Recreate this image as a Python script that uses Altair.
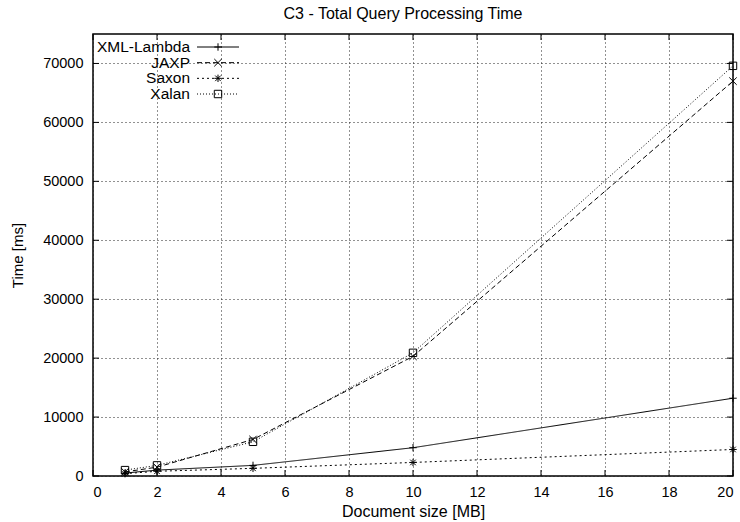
import altair as alt
import pandas as pd

# Document sizes (MB) and total query processing time (ms) per processor
sizes = [1, 2, 5, 10, 20]
xml_lambda = [500, 1000, 1800, 4800, 13200]
jaxp = [700, 1500, 6200, 20300, 67000]
saxon = [400, 800, 1300, 2300, 4500]
xalan = [1000, 1800, 5800, 20900, 69600]

series_names = ["XML-Lambda", "JAXP", "Saxon", "Xalan"]
series_values = [xml_lambda, jaxp, saxon, xalan]

x_ticks = list(range(0, 21, 2))
y_ticks = list(range(0, 70001, 10000))

W, H = 640, 442
FONT = "Liberation Sans"

dashes = [[1, 0], [5, 3], [2, 3], [1, 2]]
shapes = [
    "M-1,0L1,0M0,-1L0,1",
    "M-1,-1L1,1M-1,1L1,-1",
    "M-1,0L1,0M0,-1L0,1M-0.75,-0.75L0.75,0.75M-0.75,0.75L0.75,-0.75",
    "square",
]

rows = []
for name, vals in zip(series_names, series_values):
    for s, v in zip(sizes, vals):
        rows.append({"size": s, "time": v, "series": name})
df = pd.DataFrame(rows)

x_scale = alt.Scale(domain=[0, 20], nice=False, zero=False)
y_scale = alt.Scale(domain=[0, 75000], nice=False)

dash_scale = alt.Scale(domain=series_names, range=dashes)
shape_scale = alt.Scale(domain=series_names, range=shapes)

grid_style = dict(grid=True, gridDash=[1, 3], gridColor="#222", gridWidth=1,
                  ticks=False, domain=False, labelFont=FONT, labelFontSize=14.5,
                  labelColor="black", titleFont=FONT, titleFontWeight="normal",
                  titleColor="black")

base = alt.Chart(df).encode(
    x=alt.X("size:Q", scale=x_scale,
            axis=alt.Axis(values=x_ticks, title="Document size [MB]",
                          labelPadding=9, titlePadding=5, titleFontSize=16,
                          format="d", **grid_style)),
    y=alt.Y("time:Q", scale=y_scale,
            axis=alt.Axis(values=y_ticks, title="Time [ms]",
                          labelPadding=10, titlePadding=17, titleFontSize=15,
                          format="d", **grid_style)),
)

lines = base.mark_line(color="black", strokeWidth=1).encode(
    strokeDash=alt.StrokeDash("series:N", scale=dash_scale, legend=None),
    detail="series:N",
)
points = base.mark_point(color="black", filled=False, size=55, strokeWidth=1,
                         opacity=1).encode(
    shape=alt.Shape("series:N", scale=shape_scale, legend=None),
)

# inward tick marks on all four sides
xt = pd.DataFrame({"t": x_ticks})
yt = pd.DataFrame({"t": y_ticks})
tick_x_bottom = alt.Chart(xt).mark_rule(color="black", strokeWidth=1).encode(
    x=alt.X("t:Q", scale=x_scale), y=alt.value(H), y2=alt.value(H - 6))
tick_x_top = alt.Chart(xt).mark_rule(color="black", strokeWidth=1).encode(
    x=alt.X("t:Q", scale=x_scale), y=alt.value(0), y2=alt.value(6))
tick_y_left = alt.Chart(yt).mark_rule(color="black", strokeWidth=1).encode(
    y=alt.Y("t:Q", scale=y_scale), x=alt.value(0), x2=alt.value(6))
tick_y_right = alt.Chart(yt).mark_rule(color="black", strokeWidth=1).encode(
    y=alt.Y("t:Q", scale=y_scale), x=alt.value(W), x2=alt.value(W - 6))

plot = alt.layer(lines, points, tick_x_bottom, tick_x_top, tick_y_left, tick_y_right)

# key in the upper-left corner: label, line sample, marker
leg = pd.DataFrame({"series": series_names, "row": list(range(len(series_names)))})
row_y = alt.Y("row:Q", scale=alt.Scale(domain=[0, 3], range=[13, 60]), axis=None)
leg_text = alt.Chart(leg).mark_text(align="right", baseline="middle", font=FONT,
                                    fontSize=15.5, color="black").encode(
    x=alt.value(97), y=row_y, text="series:N")
leg_line = alt.Chart(leg).mark_rule(color="black", strokeWidth=1).encode(
    x=alt.value(104), x2=alt.value(146), y=row_y,
    strokeDash=alt.StrokeDash("series:N", scale=dash_scale, legend=None))
leg_pt = alt.Chart(leg).mark_point(color="black", filled=False, size=55,
                                   strokeWidth=1, opacity=1).encode(
    x=alt.value(125), y=row_y,
    shape=alt.Shape("series:N", scale=shape_scale, legend=None))
legend = alt.layer(leg_text, leg_line, leg_pt)

chart = alt.layer(plot, legend).resolve_scale(y="independent").properties(
    width=W, height=H,
    title=alt.TitleParams("C3 - Total Query Processing Time", font=FONT,
                          fontSize=16, fontWeight="normal", anchor="middle",
                          offset=12, dx=-10, color="black"),
    padding={"left": 93, "top": 34, "right": 7, "bottom": 46},
    autosize=alt.AutoSizeParams(type="none"),
).configure(background="white").configure_view(stroke="black", strokeWidth=1.5)

chart.save("out.html", embed_options={"renderer": "svg", "actions": False})
